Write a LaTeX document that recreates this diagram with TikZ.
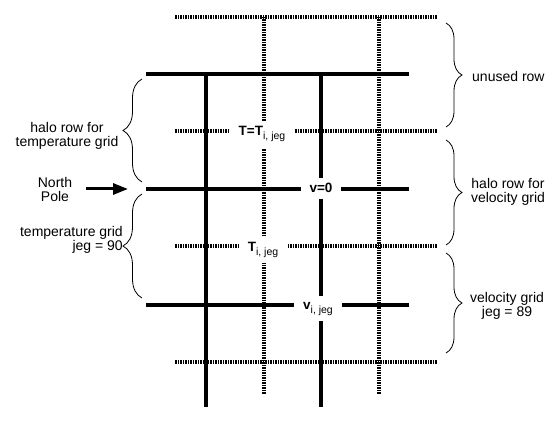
\documentclass[tikz,border=0pt]{standalone}
\usepackage{fontspec}
\setmainfont{Liberation Sans}
\usetikzlibrary{decorations.pathreplacing,arrows.meta}
\newcommand{\ijeg}{\raisebox{-4pt}{\fontsize{10.5}{10.5}\selectfont\mdseries i, jeg}}

\begin{document}
\begin{tikzpicture}[x=1pt, y=-1pt,
  font=\fontsize{14}{14}\selectfont,
  solid line/.style={line width=4pt},
  dotted line/.style={line width=3.2pt, dash pattern=on 1.5pt off 1pt},
  cell label/.style={fill=white, inner xsep=9pt, inner ysep=6pt, anchor=base,
    font=\fontsize{13.5}{13.5}\selectfont\bfseries},
  brace left/.style={decorate, decoration={brace, amplitude=19pt}, line width=0.8pt},
  brace right/.style={decorate, decoration={brace, amplitude=16pt}, line width=0.8pt},
  note/.style={align=center, inner sep=0pt}]
  \useasboundingbox (0,0) rectangle (559,422);
  \foreach \y in {17,131,246,362}
    \draw[dotted line] (175,\y) -- (437,\y);
  \foreach \x in {264,379}
    \draw[dotted line] (\x,17) -- (\x,394);
  \foreach \y in {74,189,305}
    \draw[solid line] (146,\y) -- (409,\y);
  \foreach \x in {206,321}
    \draw[solid line] (\x,74) -- (\x,407);
  \node[cell label] (tHalo) at (262,136) {T=T\ijeg};
  \node[cell label] (vPole) at (321,193) {v=0};
  \node[cell label] (tGrid) at (263,251) {T\ijeg};
  \node[cell label] (vGrid) at (318,309) {v\ijeg};
  \draw[brace left] (142,182) -- (142,79);
  \draw[brace left] (142,298) -- (142,194);
  \draw[brace right] (446,23) -- (446,127);
  \draw[brace right] (446,140) -- (446,245);
  \draw[brace right] (446,253) -- (446,353);
  \node[note] (haloT) at (67,136) {halo row for\\temperature grid};
  \node[note] (pole) at (55,189) {North\\Pole};
  \node[note, align=right, anchor=east] (gridT) at (123,240) {temperature grid\\jeg = 90\hspace{20pt}};
  \coordinate (poleTip) at (128,189);
  \draw[line width=3pt, -{Triangle[length=15pt, width=11pt]}, shorten <=14pt] (pole.east) -- (poleTip);
  \node[note, anchor=west] (unused) at (472,76) {unused row};
  \node[note] (haloV) at (508,192) {halo row for\\velocity grid};
  \node[note] (gridV) at (507,306) {velocity grid\\jeg = 89};
\end{tikzpicture}
\end{document}
